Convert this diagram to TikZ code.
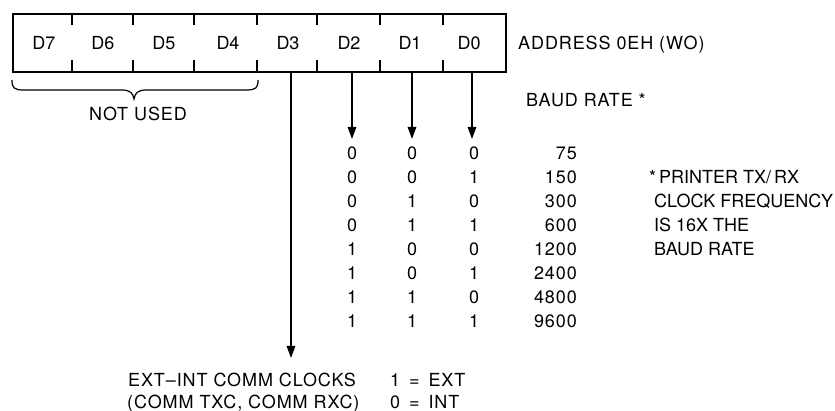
\documentclass[tikz,border=0pt]{standalone}
\usepackage{fontspec}
\setmainfont{TeX Gyre Heros}
\newfontfamily\widefont[LetterSpace=5]{TeX Gyre Heros}
\usetikzlibrary{arrows.meta}
\begin{document}
\begin{tikzpicture}[x=1pt,y=-1pt,
  font=\fontsize{18}{21}\selectfont,
  txt/.style={inner sep=0pt, text height=13pt, text depth=0pt},
  wide/.style={txt, font=\fontsize{18}{21}\selectfont\widefont},
  arr/.style={line width=1.4pt, -{Triangle[length=12pt,width=8.5pt]}},
  tick/.style={line width=1.5pt}]
\useasboundingbox (0,0) rectangle (835,411);

% register box
\node[draw, line width=2.2pt, minimum width=493pt, minimum height=58pt,
      inner sep=0pt, anchor=north west] (reg) at (12,13) {};
\foreach \x in {72,133,194,257,317,380,443} {
  \draw[tick] (\x,13) -- (\x,25);
  \draw[tick] (\x,60) -- (\x,71);
}
\foreach \n/\x in {7/44,6/103,5/164,4/228,3/288,2/349,1/410,0/469}
  \node[txt] (d\n) at (\x,43) {D\n};

\node[wide, anchor=west] (addr) at (518,43) {ADDRESS 0EH (WO)};

% brace
\draw[line width=1.2pt] (12,80) .. controls (12,88) and (14,90) .. (24,90)
  -- (122,90) .. controls (130,90) and (133,93) .. (134,99)
  .. controls (135,93) and (138,90) .. (146,90) -- (246,90)
  .. controls (256,90) and (258,88) .. (258,80);
\node[wide] (nu) at (138,114) {NOT USED};

\node[wide, anchor=west] (baud) at (526,100) {BAUD RATE *};

% table
\foreach \a/\b/\c/\r [count=\i] in {0/0/0/75,0/0/1/150,0/1/0/300,0/1/1/600,
    1/0/0/1200,1/0/1/2400,1/1/0/4800,1/1/1/9600} {
  \pgfmathsetmacro{\yy}{153+(\i-1)*24}
  \node[txt] (ra\i) at (352,\yy) {\a};
  \node[txt] (rb\i) at (412,\yy) {\b};
  \node[txt] (rc\i) at (474,\yy) {\c};
  \node[wide, anchor=east] (rr\i) at (577,\yy) {\r};
}

% arrows
\coordinate (t2) at (352,139);
\coordinate (t1) at (412,139);
\coordinate (t0) at (472,139);
\coordinate (t3) at (291,358);
\draw[arr] (t2 |- reg.south) -- (t2);
\draw[arr] (t1 |- reg.south) -- (t1);
\draw[arr] (t0 |- reg.south) -- (t0);
\draw[arr] (t3 |- reg.south) -- (t3);

% note
\node[txt, anchor=west] (n1) at (649,177) {*\,PRINTER TX/\,RX};
\node[txt, anchor=west] (n2) at (654,201) {CLOCK FREQUENCY};
\node[txt, anchor=west] (n3) at (654,225) {IS 16X THE};
\node[txt, anchor=west] (n4) at (654,249) {BAUD RATE};

% bottom
\node[wide, anchor=west] (e1) at (128,380) {EXT–INT COMM CLOCKS};
\node[wide, anchor=west] (e2) at (127,402) {(COMM TXC, COMM RXC)};
\node[wide, anchor=west] (v1) at (390,380) {1 \,=\, EXT};
\node[wide, anchor=west] (v0) at (390,402) {0 \,=\, INT};
\end{tikzpicture}
\end{document}
